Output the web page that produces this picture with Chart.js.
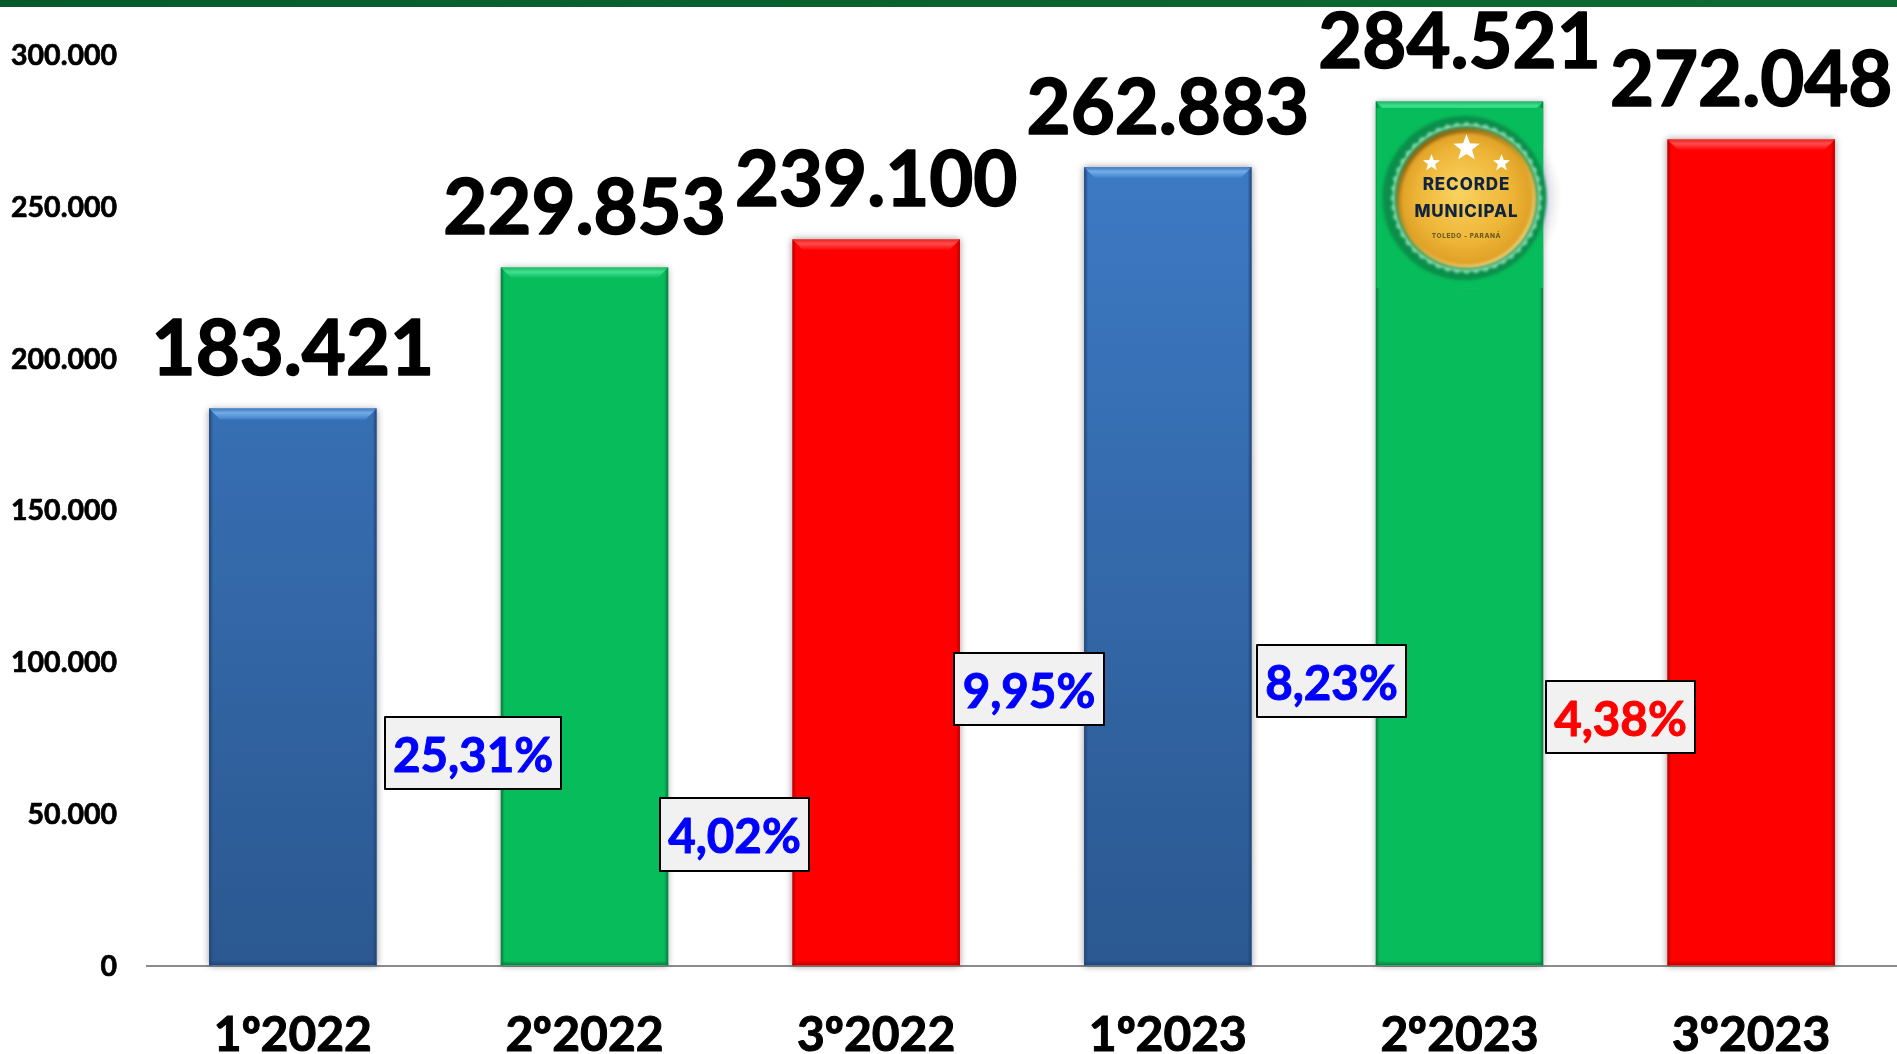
<!DOCTYPE html>
<html><head><meta charset="utf-8">
<script src="https://cdn.jsdelivr.net/npm/chart.js@4"></script>
<style>
@font-face{font-family:"OrdFix";src:local("Noto Sans Bold"),local("NotoSans-Bold"),local("Open Sans Bold");font-weight:700;unicode-range:U+BA}
html,body{margin:0;padding:0;background:#fff;overflow:hidden}canvas{display:block}</style>
</head><body><canvas id="c" width="1897" height="1054"></canvas>
<script>
const categories = ["1º2022","2º2022","3º2022","1º2023","2º2023","3º2023"];
const values = [183421,229853,239100,262883,284521,272048];
const valueLabels = ["183.421","229.853","239.100","262.883","284.521","272.048"];
const yTickStep = 50000;
const yMax = 300000;
const changes = ["25,31%","4,02%","9,95%","8,23%","4,38%"];
const changeColors = ["#0000ff","#0000ff","#0000ff","#0000ff","#ff0000"];
const changeBoxes = [[385,717,176,72],[660,798,149,73],[954,653,150,72],[1257,645,149,72],[1546,681,149,72]];
const barStyles = ["blue","green","red","blue","green","red"];
const palette = {
  blue:{top:"#3f7ecb",bottom:"#2b5890",light:"#72ade9",rim:"#3f78be",edge:"#1f4475"},
  green:{top:"#07bc5a",bottom:"#07bc5a",light:"#3fe08f",rim:"#1fb865",edge:"#0a7a40"},
  red:{top:"#ff0000",bottom:"#ff0000",light:"#ff4c4c",rim:"#ee2020",edge:"#b80000"}
};
const FONT = 'OrdFix, Lato, "Open Sans", sans-serif';

const barDecor = {
  id:"barDecor",
  beforeDatasetsDraw(chart){
    const c=chart.ctx;
    chart.getDatasetMeta(0).data.forEach(b=>{
      const w=b.width;
      c.save();c.shadowColor="rgba(0,0,0,.4)";c.shadowBlur=7;c.fillStyle="#fff";
      c.fillRect(b.x-w/2,b.y,w,b.base-b.y);c.restore();
    });
  },
  afterDatasetsDraw(chart){
    const c=chart.ctx;
    chart.getDatasetMeta(0).data.forEach((b,i)=>{
      const p=palette[barStyles[i]],w=b.width,l=b.x-w/2,r=b.x+w/2,t=b.y,B=b.base,d=4,h=11;
      c.save();
      let g=c.createLinearGradient(l,0,l+d,0);g.addColorStop(0,p.edge);g.addColorStop(1,p.edge+"00");
      c.fillStyle=g;c.fillRect(l,t,d,B-t);
      g=c.createLinearGradient(r,0,r-d,0);g.addColorStop(0,p.edge);g.addColorStop(1,p.edge+"00");
      c.fillStyle=g;c.fillRect(r-d,t,d,B-t);
      g=c.createLinearGradient(0,B,0,B-5);g.addColorStop(0,p.edge);g.addColorStop(1,p.edge+"00");
      c.fillStyle=g;c.fillRect(l,B-5,w,5);
      c.beginPath();c.moveTo(l,t);c.lineTo(r,t);c.lineTo(r-h,t+h);c.lineTo(l+h,t+h);c.closePath();
      g=c.createLinearGradient(0,t,0,t+h);
      g.addColorStop(0,p.rim);g.addColorStop(.4,p.light);g.addColorStop(1,p.top);
      c.fillStyle=g;c.fill();
      c.restore();
    });
  }
};

function boldText(c,t,x,y,sw,col){
  c.fillStyle=col;c.strokeStyle=col;c.lineWidth=sw;c.lineJoin="round";
  c.strokeText(t,x,y);c.fillText(t,x,y);
}

const overlays = {
  id:"overlays",
  afterDraw(chart){
    const c=chart.ctx,W=chart.width;
    c.save();
    let g=c.createLinearGradient(0,0,W,0);g.addColorStop(0,"#075b2b");g.addColorStop(1,"#0e6a33");
    c.fillStyle=g;c.fillRect(0,0,W,7);
    c.textAlign="center";c.textBaseline="middle";
    c.font='bold 76px '+FONT;
    chart.getDatasetMeta(0).data.forEach((b,i)=>boldText(c,valueLabels[i],b.x,b.y-58,1.6,"#000"));
    changes.forEach((t,i)=>{
      const [x,y,w,h]=changeBoxes[i];
      c.fillStyle="#f1f1f1";c.fillRect(x,y,w,h);
      c.strokeStyle="#000";c.lineWidth=2;c.strokeRect(x,y,w,h);
      c.font='bold 47.5px '+FONT;
      boldText(c,t,x+w/2,y+h/2+3.5,1,changeColors[i]);
    });
    drawBadge(c,chart.getDatasetMeta(0).data[4]);
    c.restore();
  }
};
function star(c,x,y,r){
  c.beginPath();
  for(let k=0;k<10;k++){
    const a=-Math.PI/2+k*Math.PI/5,q=k%2?r*.42:r;
    c.lineTo(x+q*Math.cos(a),y+q*Math.sin(a));
  }
  c.closePath();c.fill();
}
function drawBadge(c,bar){
  const x=bar.x+7,y=198;
  c.save();
  let h=c.createRadialGradient(x+4,y,70,x+4,y,92);
  h.addColorStop(0,"rgba(120,145,200,.55)");h.addColorStop(.6,"rgba(190,190,210,.25)");h.addColorStop(1,"rgba(255,220,170,0)");
  c.fillStyle=h;c.beginPath();c.arc(x+4,y,92,0,7);c.fill();
  c.fillStyle="#07bc5a";c.fillRect(bar.x-83,y-90,83+83.5,180);
  c.filter="blur(1.5px)";
  c.fillStyle="#0a8f4a";c.beginPath();c.arc(x-2,y,82,0,7);c.fill();
  c.fillStyle="#9be6bf";c.beginPath();
  for(let k=0;k<96;k++){const a=k*Math.PI/48,q=k%2?73:76;c.lineTo(x+q*Math.cos(a),y+q*Math.sin(a));}
  c.closePath();c.fill();
  c.fillStyle="#1a9a5c";c.beginPath();c.arc(x,y,72,0,7);c.fill();
  const rim=c.createLinearGradient(x-50,y-60,x+40,y+70);
  rim.addColorStop(0,"#8a5e10");rim.addColorStop(.5,"#d8a22a");rim.addColorStop(1,"#f6dc8e");
  c.fillStyle=rim;c.beginPath();c.arc(x,y,70,0,7);c.fill();
  const g=c.createRadialGradient(x-8,y-8,6,x,y,66);
  g.addColorStop(0,"#f8d05c");g.addColorStop(.7,"#edb436");g.addColorStop(1,"#dfa126");
  c.fillStyle=g;c.beginPath();c.arc(x,y+1,66,0,7);c.fill();
  c.filter="none";
  c.fillStyle="#fff";star(c,x,y-50,14);star(c,x-35,y-35,9);star(c,x+35,y-35,9);
  c.textAlign="center";c.textBaseline="middle";c.fillStyle="#10233f";
  c.font='800 17px Inter, '+FONT;c.letterSpacing="0.9px";
  c.fillText("RECORDE",x,y-13);c.fillText("MUNICIPAL",x,y+14);
  c.fillStyle="#6b5a20";c.font='800 6.5px Inter, '+FONT;c.letterSpacing="0.6px";
  c.fillText("TOLEDO - PARANÁ",x,y+38);
  c.restore();
}

function build(){
new Chart(document.getElementById("c"),{
  type:"bar",
  data:{labels:categories,datasets:[{
    data:values,
    categoryPercentage:1,barPercentage:0.574,
    backgroundColor(ctx){
      const a=ctx.chart.chartArea;if(!a)return "#888";
      const el=ctx.element,p=palette[barStyles[ctx.dataIndex]];
      const t=el&&isFinite(el.y)?el.y:a.top;
      const g=ctx.chart.ctx.createLinearGradient(0,t,0,a.bottom);
      g.addColorStop(0,p.top);g.addColorStop(1,p.bottom);return g;
    }
  }]},
  options:{
    responsive:false,animation:false,
    layout:{padding:{top:54.5,left:0,right:0,bottom:0}},
    plugins:{legend:{display:false},tooltip:{enabled:false}},
    scales:{
      x:{
        afterFit(s){s.height=88.5;},
        grid:{display:false},
        border:{display:true,color:"#8c8c8c",width:2},
        ticks:{color:"#000",font:{family:FONT,weight:"bold",size:48},padding:33,maxRotation:0,
          textStrokeColor:"#000",textStrokeWidth:1}
      },
      y:{
        min:0,max:yMax,
        afterFit(s){s.width=147;},
        grid:{display:false,drawTicks:false},
        border:{display:false},
        ticks:{stepSize:yTickStep,color:"#000",padding:30,labelOffset:1.2,font:{family:FONT,weight:"bold",size:28.5},
          textStrokeColor:"#000",textStrokeWidth:0.7,
          callback:v=>String(v).replace(/\B(?=(\d{3})+$)/g,".")}
      }
    }
  },
  plugins:[barDecor,overlays]
});
}
const ready = document.fonts && document.fonts.load ? document.fonts.load('bold 48px OrdFix','º') : Promise.resolve();
ready.then(build,build);
</script></body></html>
